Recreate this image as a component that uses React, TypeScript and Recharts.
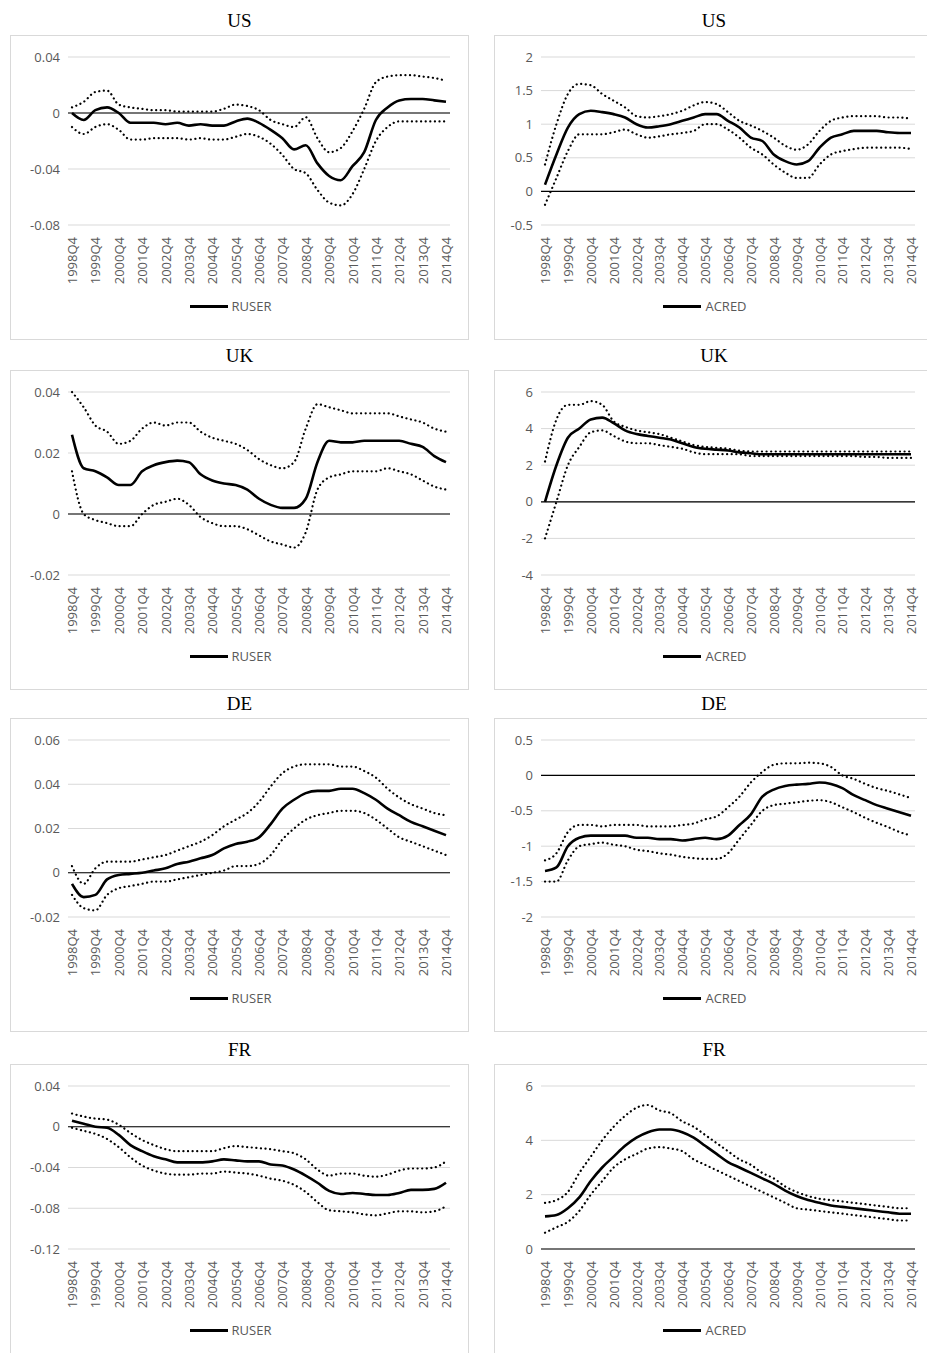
import { LineChart, Line, XAxis, YAxis, CartesianGrid, ReferenceLine, Legend } from "recharts";

// semiannual points, 1998Q4 .. 2014Q4
const quarters: string[] = [];
for (let y = 1998; y <= 2014; y++) {
  if (y > 1998) quarters.push(`${y}Q2`);
  quarters.push(`${y}Q4`);
}

const usRuser = [0, -0.005, 0.002, 0.004, 0.0, -0.007, -0.007, -0.007, -0.008, -0.007, -0.009, -0.008, -0.009, -0.009, -0.006, -0.004, -0.007, -0.012, -0.018, -0.026, -0.023, -0.036, -0.045, -0.048, -0.038, -0.028, -0.005, 0.004, 0.009, 0.01, 0.01, 0.009, 0.008];
const usRuserHi = [0.004, 0.008, 0.015, 0.016, 0.006, 0.004, 0.003, 0.002, 0.002, 0.001, 0.001, 0.001, 0.001, 0.003, 0.006, 0.005, 0.002, -0.005, -0.008, -0.01, -0.003, -0.018, -0.028, -0.025, -0.013, 0.003, 0.022, 0.026, 0.027, 0.027, 0.026, 0.025, 0.023];
const usRuserLo = [-0.01, -0.015, -0.01, -0.008, -0.012, -0.019, -0.019, -0.018, -0.018, -0.018, -0.019, -0.018, -0.019, -0.019, -0.017, -0.015, -0.017, -0.022, -0.03, -0.04, -0.043, -0.055, -0.064, -0.066, -0.058, -0.04, -0.02, -0.01, -0.006, -0.006, -0.006, -0.006, -0.006];

const usAcred = [0.1, 0.55, 0.95, 1.15, 1.2, 1.18, 1.15, 1.1, 1.0, 0.95, 0.97, 1.0, 1.05, 1.1, 1.15, 1.15, 1.05, 0.95, 0.8, 0.75, 0.55, 0.45, 0.4, 0.45, 0.65, 0.8, 0.85, 0.9, 0.9, 0.9, 0.88, 0.87, 0.87];
const usAcredHi = [0.4, 1.0, 1.45, 1.6, 1.58, 1.45, 1.35, 1.25, 1.12, 1.1, 1.12, 1.15, 1.2, 1.28, 1.33, 1.3, 1.18, 1.05, 0.98, 0.9, 0.8, 0.68, 0.62, 0.7, 0.9, 1.05, 1.1, 1.12, 1.12, 1.12, 1.1, 1.1, 1.08];
const usAcredLo = [-0.2, 0.2, 0.6, 0.85, 0.85, 0.85, 0.88, 0.92, 0.85, 0.8, 0.82, 0.85, 0.87, 0.9, 1.0, 1.0, 0.92, 0.8, 0.65, 0.55, 0.4, 0.28, 0.2, 0.2, 0.4, 0.55, 0.6, 0.63, 0.65, 0.65, 0.65, 0.65, 0.63];

const ukRuser = [0.026, 0.015, 0.014, 0.012, 0.0095, 0.0095, 0.014, 0.016, 0.017, 0.0175, 0.017, 0.013, 0.011, 0.01, 0.0095, 0.008, 0.005, 0.003, 0.002, 0.002, 0.005, 0.017, 0.024, 0.0235, 0.0235, 0.024, 0.024, 0.024, 0.024, 0.023, 0.022, 0.019, 0.017];
const ukRuserHi = [0.04, 0.035, 0.029, 0.027, 0.023, 0.024, 0.028, 0.03, 0.029, 0.03, 0.03, 0.027, 0.025, 0.024, 0.023, 0.021, 0.018, 0.016, 0.015, 0.017, 0.028, 0.036, 0.035, 0.034, 0.033, 0.033, 0.033, 0.033, 0.032, 0.031, 0.03, 0.028, 0.027];
const ukRuserLo = [0.014, 0.0, -0.002, -0.003, -0.004, -0.004, 0.0, 0.003, 0.004, 0.005, 0.003, -0.001, -0.003, -0.004, -0.004, -0.005, -0.007, -0.009, -0.01, -0.011, -0.006, 0.008, 0.012, 0.013, 0.014, 0.014, 0.014, 0.015, 0.014, 0.013, 0.011, 0.009, 0.008];

const ukAcred = [0, 2.0, 3.5, 4.0, 4.5, 4.6, 4.3, 3.9, 3.7, 3.6, 3.5, 3.4, 3.2, 3.0, 2.9, 2.85, 2.8, 2.7, 2.65, 2.6, 2.6, 2.6, 2.6, 2.6, 2.6, 2.6, 2.6, 2.6, 2.6, 2.6, 2.6, 2.6, 2.6];
const ukAcredHi = [2.2, 4.5, 5.3, 5.3, 5.5, 5.3, 4.4, 4.1, 3.9, 3.8, 3.7, 3.5, 3.3, 3.1, 3.0, 2.95, 2.9, 2.8, 2.75, 2.75, 2.75, 2.75, 2.75, 2.75, 2.75, 2.75, 2.75, 2.75, 2.75, 2.75, 2.75, 2.75, 2.75];
const ukAcredLo = [-2.0, 0.0, 2.0, 3.0, 3.8, 3.9, 3.6, 3.3, 3.2, 3.2, 3.1, 3.0, 2.9, 2.7, 2.6, 2.6, 2.6, 2.6, 2.5, 2.5, 2.5, 2.5, 2.5, 2.5, 2.5, 2.5, 2.5, 2.5, 2.45, 2.45, 2.4, 2.4, 2.4];

const deRuser = [-0.005, -0.011, -0.01, -0.003, -0.001, -0.0005, 0.0, 0.001, 0.002, 0.004, 0.005, 0.0065, 0.008, 0.011, 0.013, 0.014, 0.016, 0.022, 0.029, 0.033, 0.036, 0.037, 0.037, 0.038, 0.038, 0.036, 0.033, 0.029, 0.026, 0.023, 0.021, 0.019, 0.017];
const deRuserHi = [0.003, -0.005, 0.002, 0.005, 0.005, 0.005, 0.006, 0.007, 0.008, 0.01, 0.012, 0.014, 0.017, 0.021, 0.024, 0.027, 0.032, 0.039, 0.045, 0.048, 0.049, 0.049, 0.049, 0.048, 0.048, 0.046, 0.043, 0.038, 0.034, 0.031, 0.029, 0.027, 0.026];
const deRuserLo = [-0.01, -0.016, -0.017, -0.01, -0.007, -0.006, -0.005, -0.004, -0.004, -0.003, -0.002, -0.001, 0.0, 0.001, 0.003, 0.003, 0.004, 0.008, 0.015, 0.02, 0.024, 0.026, 0.027, 0.028, 0.028, 0.027, 0.024, 0.02, 0.016, 0.014, 0.012, 0.01, 0.008];

const deAcred = [-1.35, -1.3, -1.0, -0.88, -0.85, -0.85, -0.85, -0.85, -0.88, -0.88, -0.9, -0.9, -0.92, -0.9, -0.88, -0.9, -0.85, -0.7, -0.55, -0.3, -0.2, -0.15, -0.13, -0.12, -0.1, -0.12, -0.18, -0.28, -0.35, -0.42, -0.47, -0.52, -0.57];
const deAcredHi = [-1.2, -1.1, -0.8, -0.7, -0.7, -0.72, -0.7, -0.7, -0.7, -0.72, -0.72, -0.72, -0.7, -0.68, -0.62, -0.58, -0.45, -0.3, -0.1, 0.05, 0.15, 0.17, 0.17, 0.18, 0.17, 0.12, 0.0, -0.05, -0.12, -0.18, -0.22, -0.27, -0.32];
const deAcredLo = [-1.5, -1.5, -1.2, -1.0, -0.97, -0.95, -0.98, -1.0, -1.05, -1.07, -1.1, -1.12, -1.15, -1.17, -1.18, -1.18, -1.1, -0.9, -0.7, -0.5, -0.42, -0.4, -0.38, -0.36, -0.35, -0.38, -0.45, -0.52, -0.6, -0.67, -0.73, -0.8, -0.85];

const frRuser = [0.006, 0.003, 0.0, -0.001, -0.008, -0.018, -0.024, -0.029, -0.032, -0.035, -0.035, -0.035, -0.034, -0.032, -0.033, -0.034, -0.034, -0.037, -0.038, -0.042, -0.048, -0.055, -0.063, -0.066, -0.065, -0.066, -0.067, -0.067, -0.065, -0.062, -0.062, -0.061, -0.055];
const frRuserHi = [0.013, 0.01, 0.008, 0.007, 0.002, -0.006, -0.013, -0.018, -0.022, -0.024, -0.024, -0.024, -0.024, -0.021, -0.019, -0.02, -0.021, -0.022, -0.024, -0.026, -0.032, -0.042, -0.048, -0.046, -0.046, -0.048, -0.049, -0.047, -0.043, -0.041, -0.041, -0.04, -0.034];
const frRuserLo = [-0.001, -0.004, -0.007, -0.012, -0.02, -0.03, -0.038, -0.043, -0.046, -0.047, -0.047, -0.046, -0.046, -0.044, -0.045, -0.046, -0.048, -0.051, -0.053, -0.057, -0.064, -0.074, -0.082, -0.083, -0.084, -0.086, -0.087, -0.085, -0.083, -0.083, -0.084, -0.083, -0.078];

const frAcred = [1.2, 1.25, 1.5, 1.9, 2.5, 3.0, 3.4, 3.8, 4.1, 4.3, 4.4, 4.4, 4.3, 4.1, 3.8, 3.5, 3.2, 3.0, 2.8, 2.6, 2.4, 2.15, 1.95, 1.8, 1.7, 1.6, 1.55, 1.5, 1.45, 1.4, 1.35, 1.3, 1.3];
const frAcredHi = [1.7, 1.8, 2.1, 2.8, 3.4, 4.0, 4.5, 4.9, 5.2, 5.3, 5.1, 5.0, 4.7, 4.5, 4.2, 3.9, 3.6, 3.3, 3.1, 2.8, 2.6, 2.3, 2.1, 1.95, 1.85, 1.8, 1.75, 1.7, 1.65, 1.6, 1.55, 1.5, 1.5];
const frAcredLo = [0.6, 0.8, 1.0, 1.4, 2.0, 2.5, 3.0, 3.3, 3.5, 3.7, 3.75, 3.7, 3.6, 3.3, 3.1, 2.9, 2.7, 2.5, 2.3, 2.1, 1.9, 1.7, 1.5, 1.45, 1.4, 1.35, 1.3, 1.25, 1.2, 1.15, 1.1, 1.05, 1.05];

const FONT = "'Open Sans', 'Noto Sans', sans-serif";
const GREY = "#595959";

function RotTick({ x, y, payload }: any) {
  if (!payload.value.endsWith("Q4")) return null;
  return (
    <text x={x} y={y} transform={`rotate(-90 ${x} ${y})`} dx={-4} dy={5} textAnchor="end" fontSize={13} fill={GREY} fontFamily={FONT}>
      {payload.value}
    </text>
  );
}

function LegendBox({ name }: { name: string }) {
  return (
    <div style={{ display: "flex", justifyContent: "center", alignItems: "center", fontFamily: FONT, fontSize: 13, color: GREY }}>
      <span style={{ display: "inline-block", width: 38, height: 3, background: "#000", marginRight: 4 }} />
      {name}
    </div>
  );
}

interface PanelProps {
  title: string; name: string; main: number[]; hi: number[]; lo: number[];
  domain: [number, number]; ticks: number[];
  left: number; top: number; width: number; height: number; yWidth: number;
}

function Panel(p: PanelProps) {
  const data = quarters.map((q, i) => ({ q, main: p.main[i], hi: p.hi[i], lo: p.lo[i] }));
  return (
    <>
      <div style={{ position: "absolute", left: p.left, top: p.top - 25, width: p.width, textAlign: "center", fontFamily: "'Liberation Serif', serif", fontSize: 19, fontWeight: 400, lineHeight: "22px" }}>{p.title}</div>
      <div style={{ position: "absolute", left: p.left, top: p.top, width: p.width, height: p.height, border: "1px solid #d9d9d9", boxSizing: "border-box", background: "#fff" }}>
        <LineChart width={p.width - 2} height={p.height - 2} data={data} margin={{ top: 21, right: 18, left: 0, bottom: 12 }}>
          <CartesianGrid vertical={false} stroke="#d9d9d9" />
          <XAxis dataKey="q" interval={0} tick={<RotTick />} axisLine={false} tickLine={false} height={72} padding={{ left: 4, right: 4 }} />
          <YAxis domain={p.domain} ticks={p.ticks} axisLine={false} tickLine={false} width={p.yWidth} tick={{ fontSize: 13, fill: GREY, fontFamily: FONT }} />
          <ReferenceLine y={0} stroke="#000" strokeWidth={1.2} />
          <Line dataKey="hi" type="monotone" stroke="#000" strokeWidth={2.2} strokeDasharray="0.1 4.5" strokeLinecap="round" dot={false} legendType="none" isAnimationActive={false} />
          <Line dataKey="lo" type="monotone" stroke="#000" strokeWidth={2.2} strokeDasharray="0.1 4.5" strokeLinecap="round" dot={false} legendType="none" isAnimationActive={false} />
          <Line dataKey="main" name={p.name} type="monotone" stroke="#000" strokeWidth={2.6} dot={false} isAnimationActive={false} />
          <Legend verticalAlign="bottom" height={30} content={() => <LegendBox name={p.name} />} />
        </LineChart>
      </div>
    </>
  );
}

const L = { left: 10, width: 459, yWidth: 57 };
const R = { left: 494, width: 440, yWidth: 46 };

export default function App() {
  return (
    <div style={{ position: "relative", width: 935, height: 1361, margin: -8 }}>
      <Panel title="US" name="RUSER" main={usRuser} hi={usRuserHi} lo={usRuserLo} domain={[-0.08, 0.04]} ticks={[-0.08, -0.04, 0, 0.04]} top={35} height={305} {...L} />
      <Panel title="US" name="ACRED" main={usAcred} hi={usAcredHi} lo={usAcredLo} domain={[-0.5, 2]} ticks={[-0.5, 0, 0.5, 1, 1.5, 2]} top={35} height={305} {...R} />
      <Panel title="UK" name="RUSER" main={ukRuser} hi={ukRuserHi} lo={ukRuserLo} domain={[-0.02, 0.04]} ticks={[-0.02, 0, 0.02, 0.04]} top={370} height={320} {...L} />
      <Panel title="UK" name="ACRED" main={ukAcred} hi={ukAcredHi} lo={ukAcredLo} domain={[-4, 6]} ticks={[-4, -2, 0, 2, 4, 6]} top={370} height={320} {...R} />
      <Panel title="DE" name="RUSER" main={deRuser} hi={deRuserHi} lo={deRuserLo} domain={[-0.02, 0.06]} ticks={[-0.02, 0, 0.02, 0.04, 0.06]} top={718} height={314} {...L} />
      <Panel title="DE" name="ACRED" main={deAcred} hi={deAcredHi} lo={deAcredLo} domain={[-2, 0.5]} ticks={[-2, -1.5, -1, -0.5, 0, 0.5]} top={718} height={314} {...R} />
      <Panel title="FR" name="RUSER" main={frRuser} hi={frRuserHi} lo={frRuserLo} domain={[-0.12, 0.04]} ticks={[-0.12, -0.08, -0.04, 0, 0.04]} top={1064} height={300} {...L} />
      <Panel title="FR" name="ACRED" main={frAcred} hi={frAcredHi} lo={frAcredLo} domain={[0, 6]} ticks={[0, 2, 4, 6]} top={1064} height={300} {...R} />
    </div>
  );
}
